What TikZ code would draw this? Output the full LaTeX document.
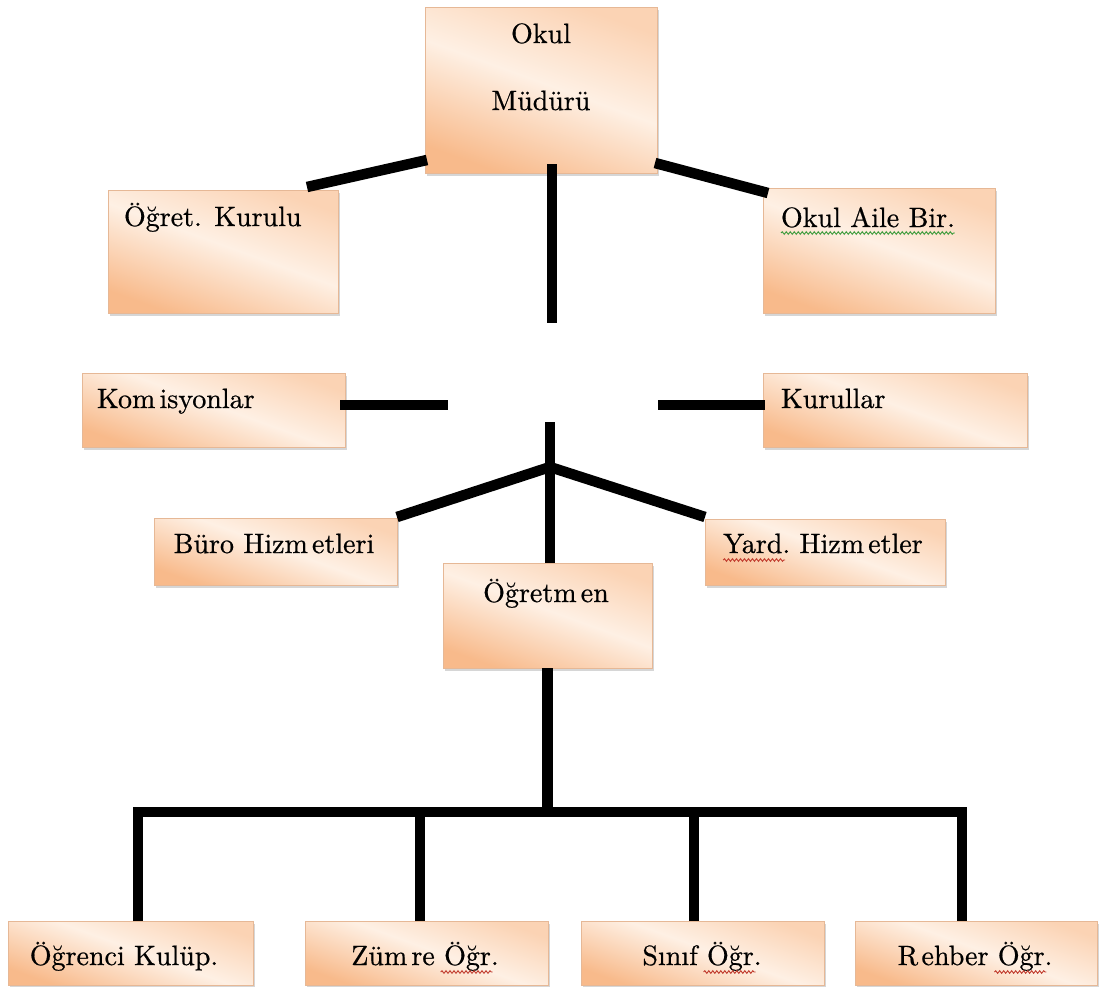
\documentclass[tikz,border=0pt]{standalone}
\usepackage{fontspec}
\newfontfamily\lblfont{lmroman10-regular}[Extension=.otf, FakeBold=0.6]
\usetikzlibrary{calc,shadows,decorations.pathmorphing}
\definecolor{boxlight}{HTML}{FEF0E4}
\definecolor{boxtop}{HTML}{FBD3B4}
\definecolor{boxbot}{HTML}{F8BA8B}
\definecolor{boxedge}{HTML}{E6B896}
\definecolor{squigred}{HTML}{C0392B}
\definecolor{squiggreen}{HTML}{3A9A3A}
\pgfdeclareverticalshading{boxshade}{100bp}{color(0bp)=(boxbot); color(25bp)=(boxbot); color(52bp)=(boxlight); color(75bp)=(boxtop); color(100bp)=(boxtop)}
\begin{document}
\begin{tikzpicture}[x=1pt,y=-1pt,
  box/.style={rectangle, draw=boxedge, line width=0.8pt, inner sep=0pt, outer sep=0pt,
    shading=boxshade, shading angle=-20,
    drop shadow={shadow xshift=1.5pt, shadow yshift=-3pt, fill=black!45, opacity=0.35}},
  lbl/.style={inner sep=0pt, outer sep=0pt, font=\lblfont\fontsize{28}{34}\selectfont, text=black},
  conn/.style={line width=10.5pt, black},
  squig/.style={line width=0.9pt, decorate, decoration={snake, amplitude=1.3pt, segment length=4pt}}
]
\fill[white] (0,0) rectangle (1099,986);
\useasboundingbox (0,0) rectangle (1099,986);

% boxes
\node[box, minimum width=232pt, minimum height=166pt] (mudur) at (541,90) {};
\node[box, minimum width=230pt, minimum height=123pt] (ogret) at (223,251.5) {};
\node[box, minimum width=232pt, minimum height=125pt] (oab) at (879,250.5) {};
\node[box, minimum width=263pt, minimum height=74pt] (komis) at (213.5,410) {};
\node[box, minimum width=264pt, minimum height=74pt] (kurul) at (895,410) {};
\node[box, minimum width=243pt, minimum height=67pt] (buro) at (275.5,551.5) {};
\node[box, minimum width=240pt, minimum height=66pt] (yard) at (825,552) {};
\node[box, minimum width=209pt, minimum height=105pt] (ogretmen) at (547.5,615.5) {};
\node[box, minimum width=245pt, minimum height=64pt] (ogrenci) at (130.5,953) {};
\node[box, minimum width=243pt, minimum height=64pt] (zumre) at (426.5,953) {};
\node[box, minimum width=243pt, minimum height=64pt] (sinif) at (702.5,953) {};
\node[box, minimum width=242pt, minimum height=64pt] (rehber) at (976,953) {};

% texts
\node[lbl, anchor=base] (mudurA) at (541,43) {Okul};
\node[lbl, anchor=base] (mudurB) at (541,110) {Müdürü};
\node[lbl, anchor=base west] (ogrett) at (124,226) {Öğret. Kurulu};
\node[lbl, anchor=base west] (oabt) at (781,227) {Okul Aile Bir.};
\node[lbl, anchor=base west] (komist) at (97,408) {Kom\kern.15em isyonlar};
\node[lbl, anchor=base west] (kurult) at (781,408) {Kurullar};
\node[lbl, anchor=base] (burot) at (274,553) {Büro Hizm\kern.15em etleri};
\node[lbl, anchor=base] (yardt) at (823,553) {Yard.\ Hizm\kern.15em etler};
\node[lbl, anchor=base] (ogretmt) at (546,602) {Öğretm\kern.15em en};
\node[lbl, anchor=base] (ogrencit) at (124,965) {Öğrenci Kulüp.};
\node[lbl, anchor=base] (zumret) at (425,965) {Züm\kern.15em re Öğr.};
\node[lbl, anchor=base] (sinift) at (702,965) {Sınıf Öğr.};
\node[lbl, anchor=base] (rehbert) at (975,965) {R\kern.12em ehber Öğr.};

% spell-check squiggles
\draw[squig, squiggreen] ($(oabt.base west)+(0,6)$) -- ($(oabt.base east)+(0,6)$);
\draw[squig, squigred] ($(yardt.base west)+(0,7)$) -- ($(yardt.base west)+(62,7)$);
\draw[squig, squigred] ($(zumret.base east)+(-58,7)$) -- ($(zumret.base east)+(-6,7)$);
\draw[squig, squigred] ($(sinift.base east)+(-58,7)$) -- ($(sinift.base east)+(-6,7)$);
\draw[squig, squigred] ($(rehbert.base east)+(-58,7)$) -- ($(rehbert.base east)+(-6,7)$);

% free ends and junctions
\coordinate (v1end) at (552,323);
\coordinate (h1end) at (448,405);
\coordinate (h2end) at (658,405);
\coordinate (v2top) at (550,422);
\coordinate (J) at (550,467);
\coordinate (bar) at (547,812);

% connectors
\draw[conn] ($(ogret.north east)+(-31,-3)$) -- ($(mudur.south west)+(2,-13)$);
\draw[conn] ($(mudur.south east)+(-2,-10)$) -- ($(oab.north west)+(5,5)$);
\draw[conn] ($(mudur.south)+(11,-9)$) -- (v1end);
\draw[conn] ($(komis.east)+(-5,-5)$) -- (h1end);
\draw[conn] (h2end) -- ($(kurul.west)+(2,-5)$);
\draw[conn] (v2top) -- ($(ogretmen.north)+(2.5,0)$);
\draw[conn] (J) -- ($(buro.north east)+(0,-1)$);
\draw[conn] (J) -- ($(yard.north west)+(0,-2)$);
\draw[conn] (ogretmen.south) -- (ogretmen.south |- bar);
\draw[conn] ($(ogrenci.north)+(7.5,0)$) |- ($(rehber.north)+(-14,-109)$) -- ($(rehber.north)+(-14,0)$);
\draw[conn] ($(zumre.north)+(-6.5,0)$) -- ($(zumre.north)+(-6.5,-109)$);
\draw[conn] ($(sinif.north)+(-8.5,0)$) -- ($(sinif.north)+(-8.5,-109)$);
\end{tikzpicture}
\end{document}
